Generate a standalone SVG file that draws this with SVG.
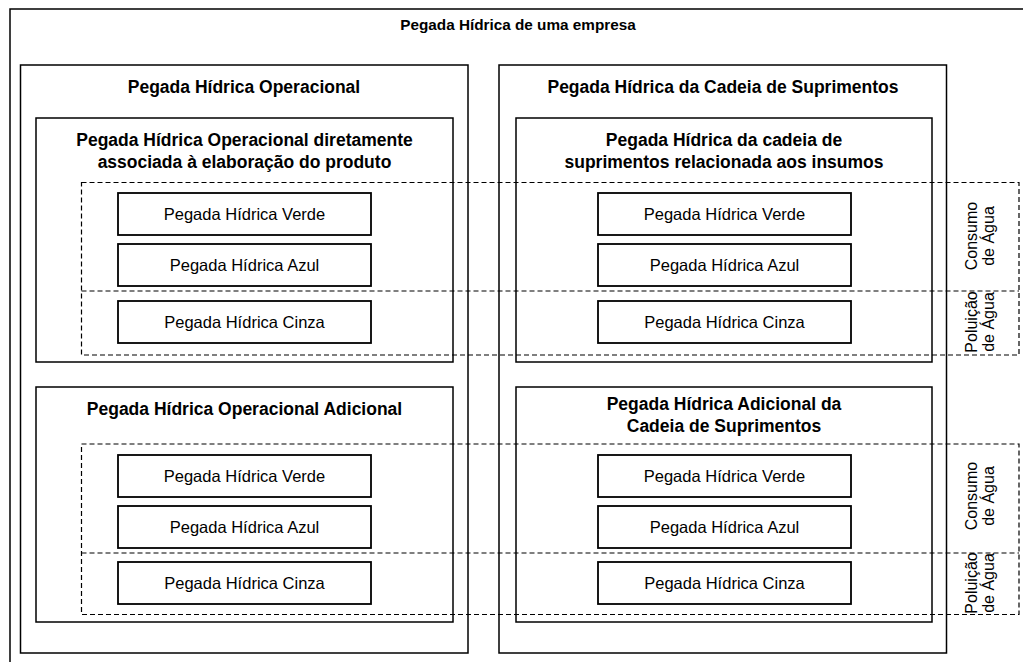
<svg xmlns="http://www.w3.org/2000/svg" width="1023" height="662" viewBox="0 0 1023 662">
<style>
.box{fill:none;stroke:#000;stroke-width:1.5}
.sbox{fill:#fff;stroke:#000;stroke-width:1.8}
.dash{fill:none;stroke:#000;stroke-width:1.2;stroke-dasharray:5,3}
.t{font-family:"Liberation Sans",Arial,sans-serif;font-size:17.5px;font-weight:bold;text-anchor:middle;fill:#000}
.h{font-family:"Liberation Sans",Arial,sans-serif;font-size:15.3px;font-weight:bold;text-anchor:middle;fill:#000}
.s{font-family:"Liberation Sans",Arial,sans-serif;font-size:16.5px;text-anchor:middle;fill:#000}
.r{font-family:"Liberation Sans",Arial,sans-serif;font-size:16px;text-anchor:middle;fill:#000}
</style>
<rect width="1023" height="662" fill="#fff"/>
<g id="empresa">
<rect class="box" x="10" y="9" width="1040" height="680"/>
<text class="h" x="518" y="30">Pegada Hídrica de uma empresa</text>
</g>
<g id="operacional">
<rect class="box" x="20.5" y="65" width="447.5" height="588"/>
<text class="t" x="244" y="93">Pegada Hídrica Operacional</text>
</g>
<g id="cadeia">
<rect class="box" x="499" y="65" width="447.5" height="588"/>
<text class="t" x="723" y="93">Pegada Hídrica da Cadeia de Suprimentos</text>
</g>
<g id="op-direta">
<rect class="box" x="36" y="118" width="417" height="244"/>
<text class="t" x="244.5" y="146">Pegada Hídrica Operacional diretamente</text>
<text class="t" x="244.5" y="168">associada à elaboração do produto</text>
</g>
<g id="op-adicional">
<rect class="box" x="36" y="387" width="417" height="235"/>
<text class="t" x="244.5" y="415">Pegada Hídrica Operacional Adicional</text>
</g>
<g id="cad-insumos">
<rect class="box" x="516" y="118" width="416" height="244"/>
<text class="t" x="724" y="146">Pegada Hídrica da cadeia de</text>
<text class="t" x="724" y="168">suprimentos relacionada aos insumos</text>
</g>
<g id="cad-adicional">
<rect class="box" x="516" y="387" width="416" height="235"/>
<text class="t" x="724" y="410">Pegada Hídrica Adicional da</text>
<text class="t" x="724" y="432">Cadeia de Suprimentos</text>
</g>
<g id="faixas">
<rect class="dash" x="81.5" y="182.5" width="937.5" height="172.5"/>
<line class="dash" x1="81.5" y1="291" x2="1019" y2="291"/>
<rect class="dash" x="81.5" y="444" width="937.5" height="170.5"/>
<line class="dash" x1="81.5" y1="553" x2="1019" y2="553"/>
<text class="r" transform="translate(980,236) rotate(-90)"><tspan x="0" y="-3">Consumo</tspan><tspan x="0" y="14">de Água</tspan></text>
<text class="r" transform="translate(980,322) rotate(-90)"><tspan x="0" y="-3">Poluição</tspan><tspan x="0" y="14">de Água</tspan></text>
<text class="r" transform="translate(980,496) rotate(-90)"><tspan x="0" y="-3">Consumo</tspan><tspan x="0" y="14">de Água</tspan></text>
<text class="r" transform="translate(980,583) rotate(-90)"><tspan x="0" y="-3">Poluição</tspan><tspan x="0" y="14">de Água</tspan></text>
</g>
<g id="op-verde-1"><rect class="sbox" x="118" y="193" width="253" height="42"/><text class="s" x="244.5" y="220">Pegada Hídrica Verde</text></g>
<g id="op-azul-1"><rect class="sbox" x="118" y="244" width="253" height="42"/><text class="s" x="244.5" y="271">Pegada Hídrica Azul</text></g>
<g id="op-cinza-1"><rect class="sbox" x="118" y="301" width="253" height="42"/><text class="s" x="244.5" y="328">Pegada Hídrica Cinza</text></g>
<g id="op-verde-2"><rect class="sbox" x="118" y="455" width="253" height="42"/><text class="s" x="244.5" y="482">Pegada Hídrica Verde</text></g>
<g id="op-azul-2"><rect class="sbox" x="118" y="506" width="253" height="42"/><text class="s" x="244.5" y="533">Pegada Hídrica Azul</text></g>
<g id="op-cinza-2"><rect class="sbox" x="118" y="562" width="253" height="42"/><text class="s" x="244.5" y="589">Pegada Hídrica Cinza</text></g>
<g id="cad-verde-1"><rect class="sbox" x="598" y="193" width="253" height="42"/><text class="s" x="724.5" y="220">Pegada Hídrica Verde</text></g>
<g id="cad-azul-1"><rect class="sbox" x="598" y="244" width="253" height="42"/><text class="s" x="724.5" y="271">Pegada Hídrica Azul</text></g>
<g id="cad-cinza-1"><rect class="sbox" x="598" y="301" width="253" height="42"/><text class="s" x="724.5" y="328">Pegada Hídrica Cinza</text></g>
<g id="cad-verde-2"><rect class="sbox" x="598" y="455" width="253" height="42"/><text class="s" x="724.5" y="482">Pegada Hídrica Verde</text></g>
<g id="cad-azul-2"><rect class="sbox" x="598" y="506" width="253" height="42"/><text class="s" x="724.5" y="533">Pegada Hídrica Azul</text></g>
<g id="cad-cinza-2"><rect class="sbox" x="598" y="562" width="253" height="42"/><text class="s" x="724.5" y="589">Pegada Hídrica Cinza</text></g>
</svg>
